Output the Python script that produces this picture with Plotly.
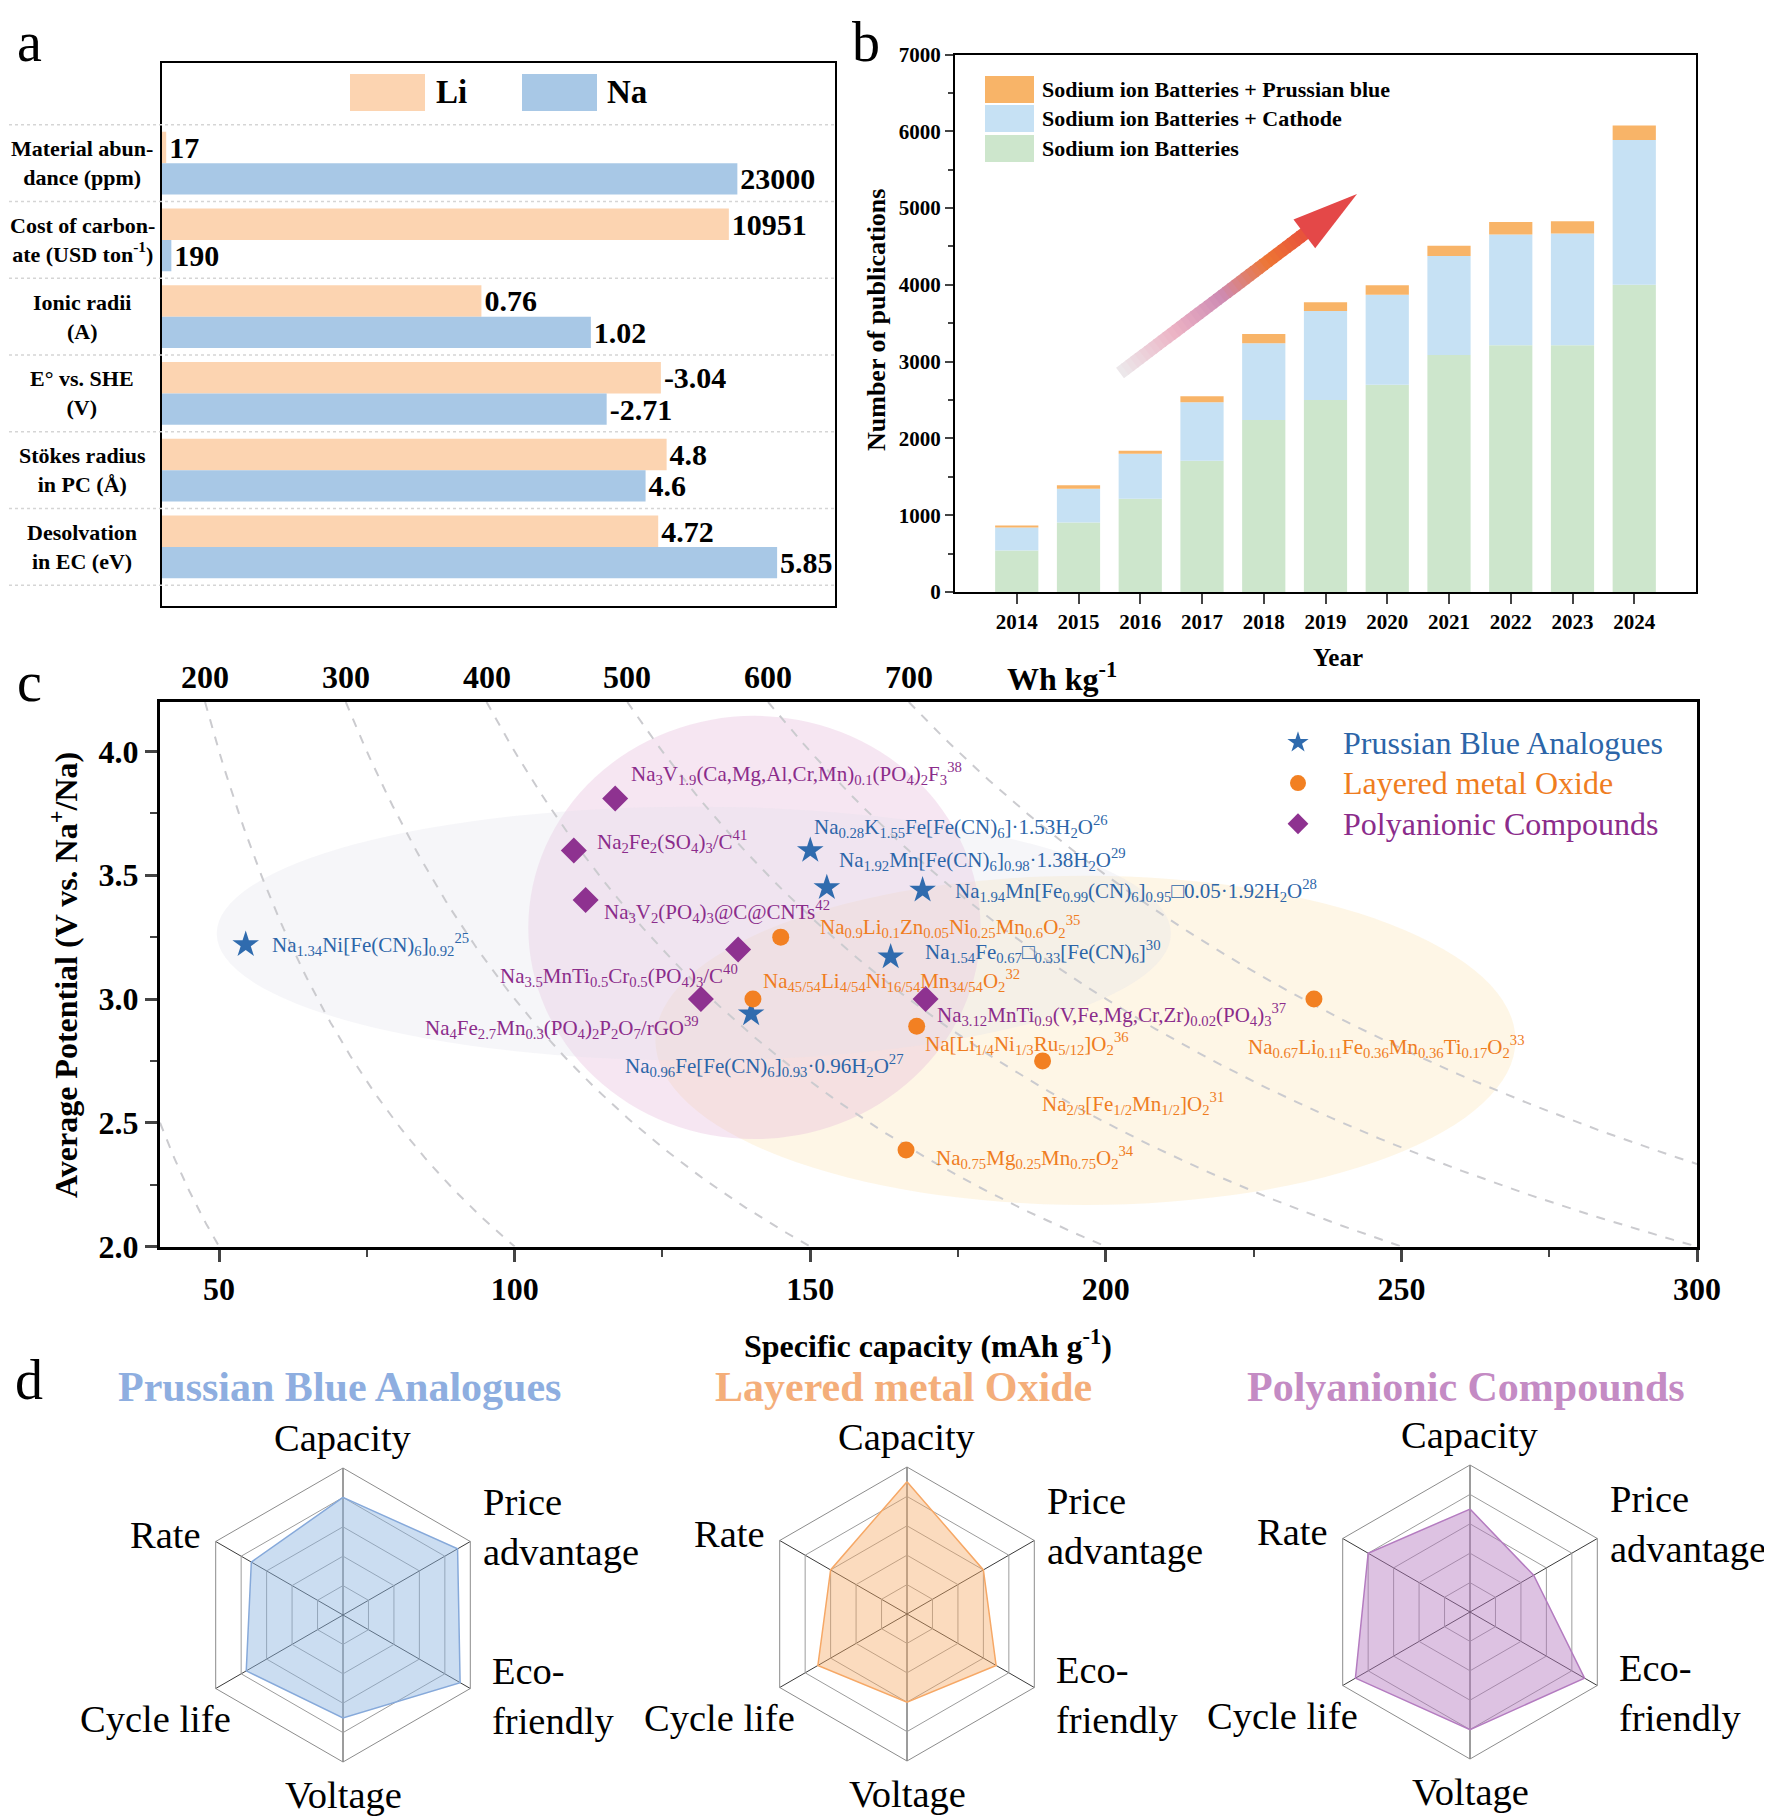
import numpy as np
import plotly.graph_objects as go

# page has an 8px body margin, so the figure is drawn 8px in from the window edge
PAGE_W, PAGE_H, PAD = 1772, 1819, 8
W, H = PAGE_W - PAD, PAGE_H - PAD
SERIF = "Liberation Serif, Times New Roman, serif"


def fx(x):
    return (x - PAD) / W


def fy(y):
    return 1 - (y - PAD) / H


# ---------------- panel a : Li vs Na properties ----------------
props = ["Material abun-<br>dance (ppm)", "Cost of carbon-<br>ate (USD ton<sup>-1</sup>)",
         "Ionic radii<br>(A)", "E° vs. SHE<br>(V)", "Stökes radius<br>in PC (Å)",
         "Desolvation<br>in EC (eV)"]
li_vals = [17, 10951, 0.76, -3.04, 4.8, 4.72]
na_vals = [23000, 190, 1.02, -2.71, 4.6, 5.85]
prop_scale = [26900, 13000, 1.6, 4.1, 6.4, 6.4]   # value that fills the whole box

# ---------------- panel b : publications ----------------
years = list(range(2014, 2025))
sib = [540, 905, 1215, 1710, 2240, 2500, 2700, 3085, 3215, 3215, 4000]
sib_cathode = [300, 440, 585, 760, 1000, 1160, 1170, 1290, 1440, 1455, 1885]
sib_prussian = [20, 45, 40, 80, 120, 115, 125, 135, 165, 160, 190]

# ---------------- panel c : capacity vs potential ----------------
pba_cap = [54.5, 150, 152.8, 169, 163.6, 140]
pba_v = [3.22, 3.60, 3.45, 3.44, 3.17, 2.94]
pba_lbl = ["Na<sub>1.34</sub>Ni[Fe(CN)<sub>6</sub>]<sub>0.92</sub><sup>25</sup>",
           "Na<sub>0.28</sub>K<sub>1.55</sub>Fe[Fe(CN)<sub>6</sub>]·1.53H<sub>2</sub>O<sup>26</sup>",
           "Na<sub>1.92</sub>Mn[Fe(CN)<sub>6</sub>]<sub>0.98</sub>·1.38H<sub>2</sub>O<sup>29</sup>",
           "Na<sub>1.94</sub>Mn[Fe<sub>0.99</sub>(CN)<sub>6</sub>]<sub>0.95</sub>□0.05·1.92H<sub>2</sub>O<sup>28</sup>",
           "Na<sub>1.54</sub>Fe<sub>0.67</sub>□<sub>0.33</sub>[Fe(CN)<sub>6</sub>]<sup>30</sup>",
           "Na<sub>0.96</sub>Fe[Fe(CN)<sub>6</sub>]<sub>0.93</sub>·0.96H<sub>2</sub>O<sup>27</sup>"]
pba_off = [(24, 0), (2, 24), (10, 28), (30, 0), (32, 5), (-128, -52)]

lmo_cap = [145, 140.3, 168, 189.3, 235.2, 166.2]
lmo_v = [3.25, 3.00, 2.89, 2.75, 3.00, 2.39]
lmo_lbl = ["Na<sub>0.9</sub>Li<sub>0.1</sub>Zn<sub>0.05</sub>Ni<sub>0.25</sub>Mn<sub>0.6</sub>O<sub>2</sub><sup>35</sup>",
           "Na<sub>45/54</sub>Li<sub>4/54</sub>Ni<sub>16/54</sub>Mn<sub>34/54</sub>O<sub>2</sub><sup>32</sup>",
           "Na[Li<sub>1/4</sub>Ni<sub>1/3</sub>Ru<sub>5/12</sub>]O<sub>2</sub><sup>36</sup>",
           "Na<sub>2/3</sub>[Fe<sub>1/2</sub>Mn<sub>1/2</sub>]O<sub>2</sub><sup>31</sup>",
           "Na<sub>0.67</sub>Li<sub>0.11</sub>Fe<sub>0.36</sub>Mn<sub>0.36</sub>Ti<sub>0.17</sub>O<sub>2</sub><sup>33</sup>",
           "Na<sub>0.75</sub>Mg<sub>0.25</sub>Mn<sub>0.75</sub>O<sub>2</sub><sup>34</sup>"]
lmo_off = [(37, 11), (8, 19), (6, -17), (-3, -43), (-68, -47), (28, -8)]

pac_cap = [117, 110, 112, 137.8, 131.5, 169.5]
pac_v = [3.81, 3.60, 3.40, 3.20, 3.00, 3.00]
pac_lbl = ["Na<sub>3</sub>V<sub>1.9</sub>(Ca,Mg,Al,Cr,Mn)<sub>0.1</sub>(PO<sub>4</sub>)<sub>2</sub>F<sub>3</sub><sup>38</sup>",
           "Na<sub>2</sub>Fe<sub>2</sub>(SO<sub>4</sub>)<sub>3</sub>/C<sup>41</sup>",
           "Na<sub>3</sub>V<sub>2</sub>(PO<sub>4</sub>)<sub>3</sub>@C@CNTs<sup>42</sup>",
           "Na<sub>3.5</sub>MnTi<sub>0.5</sub>Cr<sub>0.5</sub>(PO<sub>4</sub>)<sub>3</sub>/C<sup>40</sup>",
           "Na<sub>4</sub>Fe<sub>2.7</sub>Mn<sub>0.3</sub>(PO<sub>4</sub>)<sub>2</sub>P<sub>2</sub>O<sub>7</sub>/rGO<sup>39</sup>",
           "Na<sub>3.12</sub>MnTi<sub>0.9</sub>(V,Fe,Mg,Cr,Zr)<sub>0.02</sub>(PO<sub>4</sub>)<sub>3</sub><sup>37</sup>"]
pac_off = [(14, 25), (21, 9), (16, -11), (-240, -26), (-278, -28), (9, -15)]

energies = [100, 200, 300, 400, 500, 600, 700]   # Wh kg-1 iso-lines

# ---------------- panel d : radar scores ----------------
radar_axes = ["Capacity", "Price advantage", "Eco-friendly", "Voltage", "Cycle life", "Rate"]
pba_scores = [4.0, 4.5, 4.6, 3.5, 3.8, 3.6]
lmo_scores = [4.5, 3.0, 3.5, 3.0, 3.5, 3.0]
pac_scores = [3.5, 2.5, 4.5, 4.0, 4.5, 4.0]

LI_C, NA_C = "#FCD4B1", "#A8C8E6"
G_C, B_C, O_C = "#CDE6CC", "#C6E1F4", "#F8B468"
PBA_C, LMO_C, PAC_C = "#2F6BAE", "#F28022", "#8E3290"

fig = go.Figure()
ann = []
shapes = []

# ===== panel a =====
cats = list(range(len(props)))
li_len = [max(abs(v) / s, 0.007) for v, s in zip(li_vals, prop_scale)]
na_len = [max(abs(v) / s, 0.007) for v, s in zip(na_vals, prop_scale)]
for vals, lens, col, off in [(li_vals, li_len, LI_C, -0.41), (na_vals, na_len, NA_C, 0.0)]:
    fig.add_trace(go.Bar(
        y=cats, x=lens, orientation="h", width=0.41, offset=off,
        marker=dict(color=col, line=dict(width=0)),
        text=[str(v) for v in vals], textposition="outside", textangle=0,
        constraintext="none", cliponaxis=False,
        textfont=dict(family=SERIF, size=30, color="black", weight="bold"),
        xaxis="x", yaxis="y", showlegend=False, hoverinfo="skip"))

for i, p in enumerate(props):
    ann.append(dict(text=p, x=fx(82), y=i, xref="paper", yref="y", showarrow=False,
                    font=dict(family=SERIF, size=22, color="black", weight="bold"),
                    xanchor="center", yanchor="middle", align="center"))
for k in range(len(props) + 1):
    shapes.append(dict(type="line", xref="paper", yref="y", x0=fx(9), x1=fx(834),
                       y0=k - 0.5, y1=k - 0.5, line=dict(color="#D5D5D5", width=1.5, dash="dot")))
# legend a
for lab, col, x0, tx in [("Li", LI_C, 350, 434), ("Na", NA_C, 522, 605)]:
    shapes.append(dict(type="rect", xref="paper", yref="paper", x0=fx(x0), x1=fx(x0 + 75),
                       y0=fy(111), y1=fy(74), fillcolor=col, line=dict(width=0)))
    ann.append(dict(text=lab, x=fx(tx), y=fy(92), xref="paper", yref="paper", showarrow=False,
                    xanchor="left", yanchor="middle",
                    font=dict(family=SERIF, size=33, color="black", weight="bold")))

# ===== panel b =====
base_c = np.array(sib)
base_p = base_c + np.array(sib_cathode)
for vals, base, col in [(sib, None, G_C), (sib_cathode, base_c, B_C), (sib_prussian, base_p, O_C)]:
    fig.add_trace(go.Bar(x=years, y=vals, base=base, width=0.7,
                         marker=dict(color=col, line=dict(width=0)),
                         xaxis="x2", yaxis="y2", showlegend=False, hoverinfo="skip"))
b_leg = [("Sodium ion Batteries + Prussian blue", O_C, 76),
         ("Sodium ion Batteries + Cathode", B_C, 105),
         ("Sodium ion Batteries", G_C, 135)]
for lab, col, y0 in b_leg:
    shapes.append(dict(type="rect", xref="paper", yref="paper", x0=fx(985), x1=fx(1034),
                       y0=fy(y0 + 27), y1=fy(y0), fillcolor=col, line=dict(width=0)))
    ann.append(dict(text=lab, x=fx(1040), y=fy(y0 + 13.5), xref="paper", yref="paper",
                    showarrow=False, xanchor="left", yanchor="middle",
                    font=dict(family=SERIF, size=22, color="black", weight="bold")))

# gradient arrow in b (pixel geometry)
tail = np.array([1120.0, 373.0])
tip = np.array([1357.0, 194.0])
u = (tip - tail) / np.linalg.norm(tip - tail)
perp = np.array([-u[1], u[0]])
head_len, head_half = 66, 18
hbase = tip - u * head_len
stops = [(0.0, (236, 234, 236)), (0.3, (236, 178, 196)), (0.55, (206, 140, 180)),
         (0.8, (238, 118, 52)), (1.0, (232, 82, 60))]


def grad(t):
    for (t0, c0), (t1, c1) in zip(stops[:-1], stops[1:]):
        if t <= t1:
            f = (t - t0) / (t1 - t0)
            return "rgb(%d,%d,%d)" % tuple(int(a + (b - a) * f) for a, b in zip(c0, c1))
    return "rgb(%d,%d,%d)" % stops[-1][1]


n = 40
for k in range(n):
    p0 = tail + (hbase - tail) * k / n
    p1 = tail + (hbase - tail) * min((k + 1.3) / n, 1.02)
    shapes.append(dict(type="line", xref="paper", yref="paper", x0=fx(p0[0]), y0=fy(p0[1]),
                       x1=fx(p1[0]), y1=fy(p1[1]),
                       line=dict(color=grad((k + 0.5) / n), width=13)))
c1 = hbase + perp * head_half
c2 = hbase - perp * head_half
shapes.append(dict(type="path", xref="paper", yref="paper",
                   path="M %f %f L %f %f L %f %f Z" % (fx(tip[0]), fy(tip[1]), fx(c1[0]), fy(c1[1]),
                                                      fx(c2[0]), fy(c2[1])),
                   fillcolor="#E44848", line=dict(width=0)))

# ===== panel c =====
shapes.append(dict(type="circle", xref="x3", yref="y3", x0=123.8, x1=269.3, y0=2.168, y1=3.498,
                   fillcolor="rgba(253,234,195,0.42)", line=dict(width=0), layer="below"))
shapes.append(dict(type="circle", xref="x3", yref="y3", x0=102.3, x1=178.8, y0=2.434, y1=4.144,
                   fillcolor="rgba(228,178,215,0.33)", line=dict(width=0), layer="below"))
shapes.append(dict(type="circle", xref="x3", yref="y3", x0=49.6, x1=211, y0=2.752, y1=3.777,
                   fillcolor="rgba(224,224,234,0.3)", line=dict(width=0), layer="below"))

for e in energies:
    cap = np.linspace(max(40, e / 4.2), min(300, e / 2.0), 80)
    fig.add_trace(go.Scatter(x=cap, y=e / cap, mode="lines",
                             line=dict(color="#CBCBCF", width=2, dash="dash"),
                             xaxis="x3", yaxis="y3", showlegend=False, hoverinfo="skip"))

groups = [("Prussian Blue Analogues", pba_cap, pba_v, pba_lbl, pba_off, PBA_C, "star", 20, "#2C65A8"),
          ("Layered metal Oxide", lmo_cap, lmo_v, lmo_lbl, lmo_off, LMO_C, "circle", 17, "#EF7D1F"),
          ("Polyanionic Compounds", pac_cap, pac_v, pac_lbl, pac_off, PAC_C, "diamond", 20, "#8B2C8B")]
for name, xs, ys, lbls, offs, col, sym, size, tcol in groups:
    fig.add_trace(go.Scatter(x=xs, y=ys, mode="markers",
                             marker=dict(symbol=sym, size=size, color=col, line=dict(width=0)),
                             name="<span style='color:%s;font-size:32px'>%s</span>" % (tcol, name),
                             xaxis="x3", yaxis="y3", hoverinfo="skip"))
    for x, y, t, (dx, dy) in zip(xs, ys, lbls, offs):
        ann.append(dict(text=t, x=x, y=y, xref="x3", yref="y3", xshift=dx, yshift=dy,
                        showarrow=False, xanchor="left", yanchor="middle",
                        font=dict(family=SERIF, size=21, color=tcol)))

for e in energies:
    if e / 4.2 >= 40:
        ann.append(dict(text=str(e), x=e / 4.2, y=fy(677), xref="x3", yref="paper", showarrow=False,
                        xanchor="center", yanchor="middle",
                        font=dict(family=SERIF, size=32, color="black", weight="bold")))
ann.append(dict(text="Wh kg<sup>-1</sup>", x=fx(1062), y=fy(677), xref="paper", yref="paper",
                showarrow=False, xanchor="center", yanchor="middle",
                font=dict(family=SERIF, size=32, color="black", weight="bold")))

# ===== panel d =====
radar_centers = [(343, 1615), (907, 1614), (1470, 1612)]
radar_sets = [("Prussian Blue Analogues", pba_scores, "rgba(140,180,225,0.45)", "#86A9DA", "#8EAEE0"),
              ("Layered metal Oxide", lmo_scores, "rgba(245,170,100,0.42)", "#F6A866", "#F4AE7A"),
              ("Polyanionic Compounds", pac_scores, "rgba(180,120,190,0.45)", "#B47CC0", "#C48BC4")]
R = 147
polar_layouts = {}
for k, ((cx, cy), (title, sc, fillc, linec, tcol)) in enumerate(zip(radar_centers, radar_sets)):
    pname = "polar" if k == 0 else "polar%d" % (k + 1)
    fig.add_trace(go.Scatterpolar(r=sc + sc[:1], theta=radar_axes + radar_axes[:1], fill="toself",
                                  fillcolor=fillc, line=dict(color=linec, width=1.5), mode="lines",
                                  subplot=pname, showlegend=False, hoverinfo="skip"))
    polar_layouts[pname] = dict(
        domain=dict(x=[fx(cx - R), fx(cx + R)], y=[fy(cy + R), fy(cy - R)]),
        gridshape="linear", bgcolor="rgba(0,0,0,0)",
        radialaxis=dict(range=[0, 5], tickvals=[1, 2, 3, 4, 5], showticklabels=False, ticks="",
                        showline=False, gridcolor="#9C9C9C", gridwidth=1),
        angularaxis=dict(rotation=90, direction="clockwise", showticklabels=False, ticks="",
                         gridcolor="#3A3A3A", gridwidth=1, linecolor="#8C8C8C", linewidth=1,
                         categoryarray=radar_axes, categoryorder="array"))
    ann.append(dict(text=title, x=fx(cx - 4), y=fy(1387), xref="paper", yref="paper", showarrow=False,
                    xanchor="center", yanchor="middle",
                    font=dict(family=SERIF, size=42, color=tcol, weight="bold")))
    lbl_pos = [("Capacity", 0, -177, "center"), ("Price<br>advantage", 138, -88, "left"),
               ("Eco-<br>friendly", 147, 81, "left"), ("Voltage", 0, 180, "center"),
               ("Cycle life", -110, 104, "right"), ("Rate", -140, -80, "right")]
    for t, dx, dy, xa in lbl_pos:
        ann.append(dict(text=t, x=fx(cx + dx), y=fy(cy + dy), xref="paper", yref="paper",
                        showarrow=False, xanchor=xa, yanchor="middle", align="left",
                        font=dict(family=SERIF, size=38.5, color="black")))

# panel letters and axis titles
for t, x, y in [("a", 29, 42), ("b", 866, 42), ("c", 29, 682), ("d", 29, 1380)]:
    ann.append(dict(text=t, x=fx(x), y=fy(y), xref="paper", yref="paper", showarrow=False,
                    xanchor="center", yanchor="middle", font=dict(family=SERIF, size=56, color="black")))
bold = lambda s: dict(family=SERIF, size=s, color="black", weight="bold")
ann += [
    dict(text="Number of publications", x=fx(876), y=fy(320), textangle=-90, font=bold(26)),
    dict(text="Year", x=fx(1338), y=fy(657), font=bold(25)),
    dict(text="Average Potential (V vs. Na<sup>+</sup>/Na)", x=fx(64), y=fy(975), textangle=-90, font=bold(32)),
    dict(text="Specific capacity (mAh g<sup>-1</sup>)", x=fx(928), y=fy(1344), font=bold(32)),
]
for a in ann[-4:]:
    a.update(xref="paper", yref="paper", showarrow=False, xanchor="center", yanchor="middle")

axis_common = dict(showline=True, mirror=True, linecolor="black", showgrid=False, zeroline=False,
                   automargin=False)
fig.update_layout(
    width=W, height=H, margin=dict(l=0, r=0, t=0, b=0, autoexpand=False),
    paper_bgcolor="white", plot_bgcolor="white", barmode="overlay",
    font=dict(family=SERIF, color="black"),
    xaxis=dict(domain=[fx(161.5), fx(835)], range=[0, 1], showticklabels=False, ticks="",
               linewidth=2, anchor="y", **axis_common),
    yaxis=dict(domain=[fy(606), fy(63)], range=[5.77, -1.305], showticklabels=False, ticks="",
               linewidth=2, anchor="x", **axis_common),
    xaxis2=dict(domain=[fx(955), fx(1696)], range=[2013, 2025], tickvals=years, ticks="outside",
                ticklen=10, tickwidth=2, linewidth=2, tickfont=bold(21), anchor="y2", **axis_common),
    yaxis2=dict(domain=[fy(592), fy(54.5)], range=[0, 7000], dtick=1000, ticks="outside",
                ticklen=8, tickwidth=2, linewidth=2, tickfont=bold(21), anchor="x2",
                minor=dict(ticks="outside", ticklen=5, dtick=500, tickwidth=1.5), **axis_common),
    xaxis3=dict(domain=[fx(160), fx(1697)], range=[40, 300], tickvals=[50, 100, 150, 200, 250, 300],
                ticks="outside", ticklen=12, tickwidth=2.5, linewidth=3, tickfont=bold(32), anchor="y3",
                minor=dict(ticks="outside", ticklen=7, dtick=25, tick0=25, tickwidth=2), **axis_common),
    yaxis3=dict(domain=[fy(1246.5), fy(702)], range=[2, 4.2], tickvals=[2.0, 2.5, 3.0, 3.5, 4.0],
                tickformat=".1f", ticks="outside", ticklen=12, tickwidth=2.5, linewidth=3,
                tickfont=bold(32), anchor="x3",
                minor=dict(ticks="outside", ticklen=7, dtick=0.25, tick0=2.25, tickwidth=2), **axis_common),
    legend=dict(x=fx(1253), y=fy(717), xanchor="left", yanchor="top", bgcolor="rgba(0,0,0,0)",
                font=dict(family=SERIF, size=29), tracegroupgap=0, itemwidth=80),
    annotations=ann, shapes=shapes,
    **polar_layouts,
)

fig.write_html("out.html")
